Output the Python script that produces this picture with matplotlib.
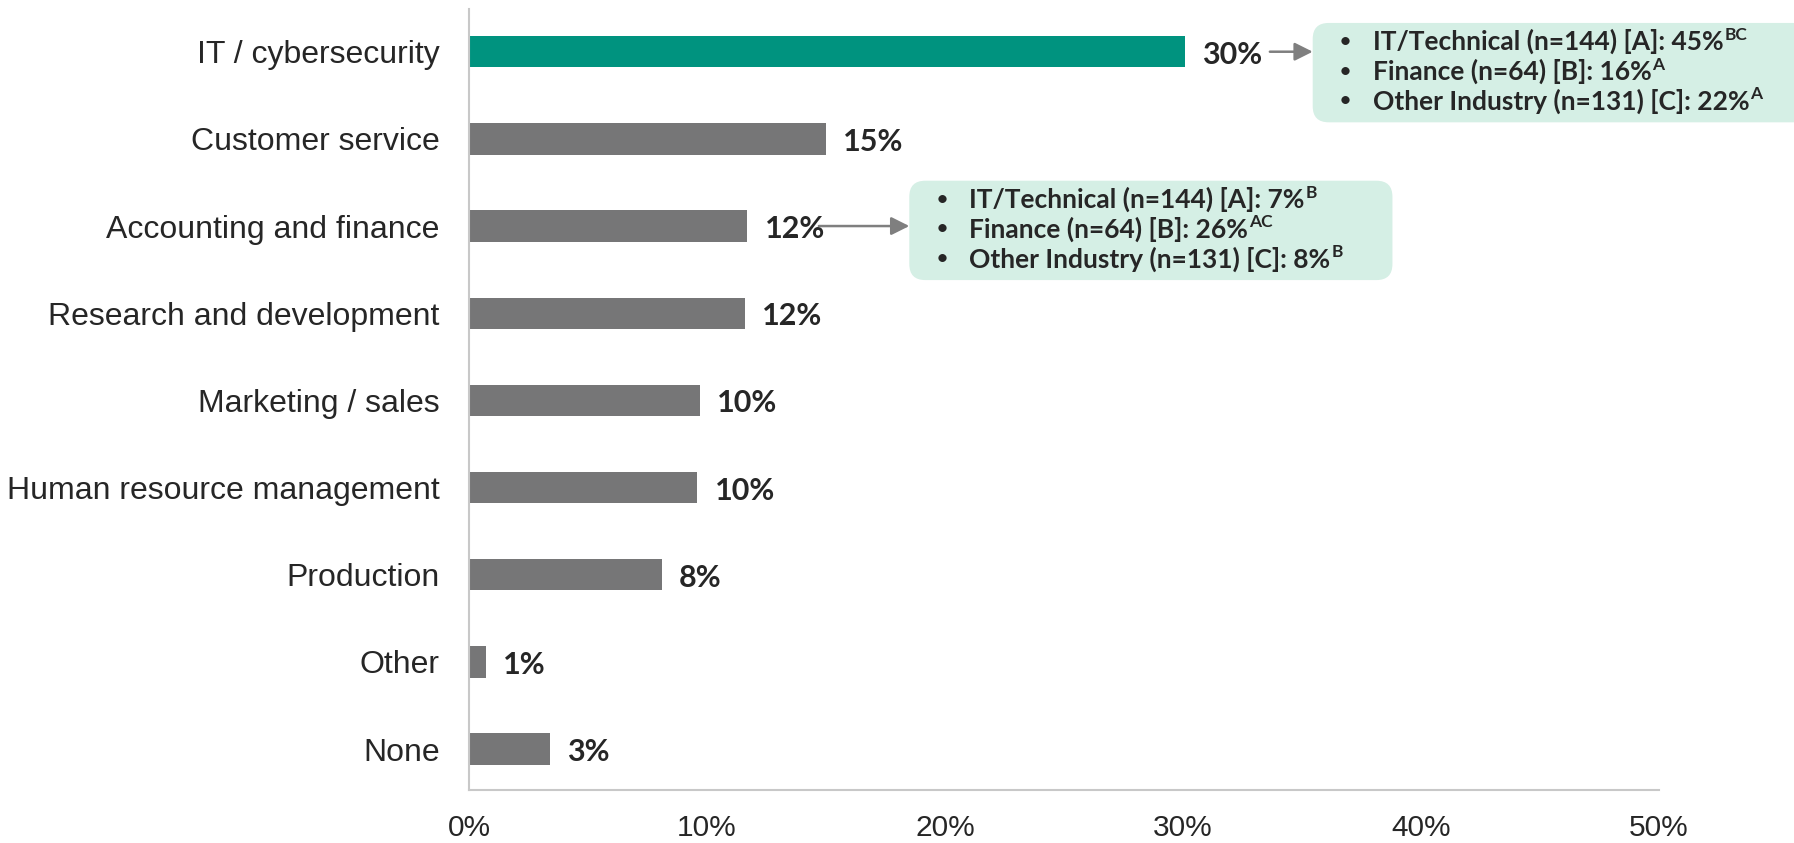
import matplotlib
matplotlib.use("Agg")
import matplotlib.pyplot as plt
from matplotlib.patches import FancyBboxPatch, FancyArrowPatch
from matplotlib.transforms import IdentityTransform

categories = ["IT / cybersecurity", "Customer service", "Accounting and finance",
              "Research and development", "Marketing / sales",
              "Human resource management", "Production", "Other", "None"]
values = [30.1, 15.0, 11.7, 11.6, 9.7, 9.6, 8.1, 0.7, 3.4]
value_labels = ["30%", "15%", "12%", "12%", "10%", "10%", "8%", "1%", "3%"]
x_ticks = [0, 10, 20, 30, 40, 50]

# callouts: lines as (main text, superscript)
callout_it = [("IT/Technical (n=144) [A]: 45%", "BC"),
              ("Finance (n=64) [B]: 16%", "A"),
              ("Other Industry (n=131) [C]: 22%", "A")]
callout_fin = [("IT/Technical (n=144) [A]: 7%", "B"),
               ("Finance (n=64) [B]: 26%", "AC"),
               ("Other Industry (n=131) [C]: 8%", "B")]

TEAL = "#00937f"
GRAY = "#767677"
TXT = "#262626"
BOXC = "#d5efe5"
AXC = "#c8c8c8"

W, H, DPI = 1794, 843, 100
fig = plt.figure(figsize=(W / DPI, H / DPI), dpi=DPI)
ax = fig.add_axes([469 / W, 1 - 790 / H, (1659 - 469) / W, (790 - 9) / H])

colors = [TEAL] + [GRAY] * (len(values) - 1)
ypos = list(range(len(categories)))
ax.barh(ypos, values, height=0.36, color=colors)
ax.set_ylim(8.47, -0.49)
ax.set_xlim(0, 50)
ax.set_yticks(ypos)
ax.set_yticklabels(categories, fontsize=23, family="Liberation Sans", color=TXT)
ax.set_xticks(x_ticks)
ax.set_xticklabels([f"{t}%" for t in x_ticks], fontsize=21.5, family="Liberation Sans", color=TXT)
ax.tick_params(axis="both", length=0)
ax.tick_params(axis="y", pad=21)
ax.tick_params(axis="x", pad=17)
for s in ["top", "right"]:
    ax.spines[s].set_visible(False)
ax.spines["left"].set_color(AXC)
ax.spines["bottom"].set_color(AXC)
ax.spines["left"].set_linewidth(1.5)
ax.spines["bottom"].set_linewidth(1.5)

for y, v, lab in zip(ypos, values, value_labels):
    ax.annotate(lab, (v, y), xytext=(17, -3), textcoords="offset pixels",
                va="center", ha="left", fontsize=22, fontweight="bold",
                family="Lato", color=TXT)

fig.canvas.draw()
renderer = fig.canvas.get_renderer()


def callout(row, lines, x0, x1, dy0, dy1, arrow_from):
    # box in pixel coords derived from the bar row position
    px0, py_top = ax.transData.transform((x0, row + dy0))
    px1, py_bot = ax.transData.transform((x1, row + dy1))
    r = 16
    box = FancyBboxPatch((px0 + r, py_bot + r), px1 - px0 - 2 * r, py_top - py_bot - 2 * r,
                         boxstyle=f"round,pad={r}", transform=IdentityTransform(),
                         facecolor=BOXC, edgecolor="none", zorder=1)
    fig.add_artist(box)
    _, yc = ax.transData.transform((0, row))
    ax0, _ = ax.transData.transform((arrow_from, row))
    fig.add_artist(FancyArrowPatch(
        (ax0, yc), (px0, yc), transform=IdentityTransform(),
        arrowstyle="-|>,head_length=11,head_width=5.5", color="#7f7f7f",
        lw=1.8, mutation_scale=1, shrinkA=0, shrinkB=0, zorder=2))
    h = py_top - py_bot
    for i, (main, sup) in enumerate(lines):
        yy = py_top - h * (0.19 + 0.30 * i)
        fig.text(px0 + 26, yy, "\u2022", transform=IdentityTransform(),
                 fontsize=16, family="Lato", color=TXT, va="center", ha="left")
        t = fig.text(px0 + 60, yy, main, transform=IdentityTransform(),
                     fontsize=19, family="Lato", fontweight="bold",
                     color=TXT, va="center", ha="left")
        bb = t.get_window_extent(renderer)
        fig.text(bb.x1 + 1, yy + 7, sup, transform=IdentityTransform(),
                 fontsize=12.5, family="Lato", fontweight="bold",
                 color=TXT, va="center", ha="left")


callout(0, callout_it, 35.45, 56.3, -0.33, 0.81, 33.65)
callout(2, callout_fin, 18.5, 38.8, -0.52, 0.62, 14.7)

fig.savefig("out.png", dpi=DPI, facecolor="white")
